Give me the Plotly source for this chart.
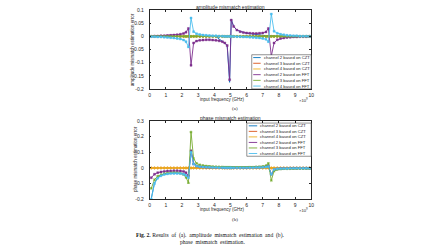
import plotly.graph_objects as go

# ---------------- data ----------------
freq_ghz = [0.1, 0.3, 0.5, 0.7, 0.9, 1.1, 1.3, 1.5, 1.7, 1.9,
            2.1, 2.25, 2.4, 2.56, 2.72, 2.9,
            3.1, 3.3, 3.5, 3.7, 3.9, 4.1, 4.3, 4.5,
            4.65, 4.8, 4.95, 5.05, 5.2, 5.4, 5.6, 5.8,
            6.0, 6.2, 6.4, 6.6, 6.8, 7.0,
            7.2, 7.35, 7.53, 7.7, 7.9,
            8.1, 8.3, 8.5, 8.7, 8.9,
            9.1, 9.3, 9.5, 9.7, 9.9]

series_names = ["channel 2 based on CZT", "channel 3 based on CZT", "channel 4 based on CZT",
                "channel 2 based on FFT", "channel 3 based on FFT", "channel 4 based on FFT"]
series_colors = ["#0072BD", "#D95319", "#EDB120", "#7E2F8E", "#77AC30", "#4DBEEE"]
series_symbols = ["line-ew", "circle", "cross", "square", "x", "square"]

# amplitude mismatch estimation error
amp_ch2_czt = [0.000, 0.000, 0.000, 0.000, 0.000, 0.000, 0.000, 0.000, 0.000, 0.000,
               0.000, 0.000, 0.000, 0.000, 0.000, 0.000,
               0.000, 0.000, 0.000, 0.000, 0.000, 0.000, -0.010, -0.018,
               -0.025, -0.035, -0.175, 0.065, 0.038, 0.024, 0.018, 0.015,
               0.012, 0.010, 0.008, 0.006, 0.005, 0.004,
               0.003, 0.003, 0.002, 0.002, 0.001,
               0.001, 0.001, 0.000, 0.000, 0.000,
               0.000, 0.000, 0.000, 0.000, 0.000]
amp_ch3_czt = [0.000, 0.000, 0.000, 0.000, 0.000, 0.000, 0.000, 0.000, 0.000, 0.000,
               0.000, 0.000, 0.000, 0.000, 0.000, 0.000,
               0.000, 0.000, 0.000, 0.000, 0.000, 0.000, 0.000, 0.000,
               0.000, 0.000, 0.000, 0.000, 0.000, 0.000, 0.000, 0.000,
               0.000, 0.000, 0.000, 0.000, 0.000, 0.000,
               0.000, 0.000, 0.000, 0.000, 0.000,
               0.000, 0.000, 0.000, 0.000, 0.000,
               0.000, 0.000, 0.000, 0.000, 0.000]
amp_ch4_czt = [0.000, 0.000, 0.000, 0.000, 0.000, 0.000, 0.000, 0.000, 0.000, 0.000,
               0.000, 0.000, 0.000, 0.000, 0.000, 0.000,
               0.000, 0.000, 0.000, 0.000, 0.000, 0.000, 0.000, 0.000,
               0.000, 0.000, 0.000, 0.000, 0.000, 0.000, 0.000, 0.000,
               0.000, 0.000, 0.000, 0.000, 0.000, 0.000,
               0.000, 0.000, 0.000, 0.000, 0.000,
               0.000, 0.000, 0.000, 0.000, 0.000,
               0.000, 0.000, 0.000, 0.000, 0.000]
amp_ch2_fft = [0.000, 0.001, 0.001, 0.002, 0.002, 0.003, 0.004, 0.005, 0.006, 0.008,
               0.011, 0.016, 0.030, -0.110, -0.025, -0.018,
               -0.015, -0.014, -0.013, -0.013, -0.014, -0.015, -0.017, -0.020,
               -0.025, -0.035, -0.165, 0.062, 0.038, 0.024, 0.018, 0.015,
               0.013, 0.012, 0.011, 0.011, 0.012, 0.013,
               0.017, 0.030, -0.075, -0.025, -0.013,
               -0.008, -0.006, -0.004, -0.003, -0.002,
               -0.002, -0.001, -0.001, -0.001, 0.000]
amp_ch3_fft = [0.000, 0.000, 0.000, 0.000, 0.000, 0.000, 0.000, 0.000, 0.000, 0.000,
               0.000, 0.000, 0.000, 0.000, 0.000, 0.000,
               0.000, 0.000, 0.000, 0.000, 0.000, 0.000, 0.000, 0.000,
               0.000, 0.000, 0.000, 0.000, 0.000, 0.000, 0.000, 0.000,
               0.000, 0.000, 0.000, 0.000, 0.000, 0.000,
               0.000, 0.000, 0.000, 0.000, 0.000,
               0.000, 0.000, 0.000, 0.000, 0.000,
               0.000, 0.000, 0.000, 0.000, 0.000]
amp_ch4_fft = [-0.001, -0.001, -0.002, -0.002, -0.003, -0.004, -0.005, -0.006, -0.008, -0.010,
               -0.014, -0.020, -0.040, 0.070, 0.018, 0.010,
               0.007, 0.005, 0.004, 0.003, 0.002, 0.002, 0.001, 0.001,
               0.000, 0.000, 0.000, 0.000, 0.000, -0.001, -0.001, -0.002,
               -0.002, -0.003, -0.004, -0.005, -0.006, -0.008,
               -0.011, -0.020, 0.085, 0.020, 0.012,
               0.008, 0.006, 0.004, 0.003, 0.002,
               0.002, 0.001, 0.001, 0.001, 0.000]

# phase mismatch estimation error
ph_ch2_czt = [-0.195, -0.095, -0.062, -0.048, -0.040, -0.036, -0.034, -0.033, -0.033, -0.034,
              -0.038, -0.045, -0.060, 0.115, 0.030, 0.015,
              0.010, 0.008, 0.006, 0.005, 0.004, 0.003, 0.003, 0.002,
              0.002, 0.002, 0.002, 0.002, 0.002, 0.002, 0.002, 0.002,
              0.002, 0.002, 0.003, 0.003, 0.004, 0.005,
              0.008, 0.012, -0.045, -0.012, -0.006,
              -0.004, -0.003, -0.003, -0.002, -0.002,
              -0.002, -0.002, -0.002, -0.002, -0.002]
ph_ch3_czt = [0.000, 0.000, 0.000, 0.000, 0.000, 0.000, 0.000, 0.000, 0.000, 0.000,
              0.000, 0.000, 0.000, 0.000, 0.000, 0.000,
              0.000, 0.000, 0.000, 0.000, 0.000, 0.000, 0.000, 0.000,
              0.000, 0.000, 0.000, 0.000, 0.000, 0.000, 0.000, 0.000,
              0.000, 0.000, 0.000, 0.000, 0.000, 0.000,
              0.000, 0.000, 0.000, 0.000, 0.000,
              0.000, 0.000, 0.000, 0.000, 0.000,
              0.000, 0.000, 0.000, 0.000, 0.000]
ph_ch4_czt = [0.000, 0.000, 0.000, 0.000, 0.000, 0.000, 0.000, 0.000, 0.000, 0.000,
              0.000, 0.000, 0.000, 0.000, 0.000, 0.000,
              0.000, 0.000, 0.000, 0.000, 0.000, 0.000, 0.000, 0.000,
              0.000, 0.000, 0.000, 0.000, 0.000, 0.000, 0.000, 0.000,
              0.000, 0.000, 0.000, 0.000, 0.000, 0.000,
              0.000, 0.000, 0.000, 0.000, 0.000,
              0.000, 0.000, 0.000, 0.000, 0.000,
              0.000, 0.000, 0.000, 0.000, 0.000]
ph_ch2_fft = [-0.062, -0.040, -0.030, -0.025, -0.022, -0.020, -0.019, -0.018, -0.018, -0.019,
              -0.022, -0.030, -0.050, 0.110, 0.025, 0.012,
              0.008, 0.006, 0.005, 0.004, 0.004, 0.003, 0.003, 0.003,
              0.002, 0.002, 0.002, 0.002, 0.002, 0.002, 0.002, 0.002,
              0.002, 0.003, 0.003, 0.004, 0.005, 0.006,
              0.009, 0.014, -0.040, -0.012, -0.006,
              -0.004, -0.003, -0.003, -0.002, -0.002,
              -0.002, -0.002, -0.002, -0.002, -0.002]
ph_ch3_fft = [-0.130, -0.075, -0.052, -0.043, -0.037, -0.033, -0.031, -0.030, -0.031, -0.034,
              -0.042, -0.060, -0.095, 0.230, 0.060, 0.030,
              0.020, 0.016, 0.013, 0.011, 0.009, 0.008, 0.007, 0.007,
              0.006, 0.006, 0.006, 0.005, 0.005, 0.005, 0.005, 0.005,
              0.005, 0.006, 0.006, 0.007, 0.008, 0.010,
              0.015, 0.030, -0.080, -0.020, -0.010,
              -0.007, -0.006, -0.005, -0.005, -0.004,
              -0.004, -0.004, -0.004, -0.004, -0.004]
ph_ch4_fft = [-0.200, -0.100, -0.065, -0.050, -0.042, -0.038, -0.036, -0.035, -0.035, -0.036,
              -0.040, -0.048, -0.062, 0.100, 0.025, 0.012,
              0.008, 0.006, 0.005, 0.004, 0.003, 0.003, 0.002, 0.002,
              0.001, 0.001, 0.001, 0.001, 0.001, 0.001, 0.001, 0.001,
              0.001, 0.002, 0.002, 0.003, 0.003, 0.004,
              0.006, 0.010, -0.040, -0.010, -0.005,
              -0.004, -0.003, -0.003, -0.002, -0.002,
              -0.002, -0.002, -0.002, -0.002, -0.002]

amp_series = [amp_ch2_czt, amp_ch3_czt, amp_ch4_czt, amp_ch2_fft, amp_ch3_fft, amp_ch4_fft]
ph_series = [ph_ch2_czt, ph_ch3_czt, ph_ch4_czt, ph_ch2_fft, ph_ch3_fft, ph_ch4_fft]

x_tick_vals = [0, 1, 2, 3, 4, 5, 6, 7, 8, 9, 10]
x_tick_text = ["0", "1", "2", "3", "4", "5", "6", "7", "8", "9", "10"]
amp_tick_vals = [0.1, 0.05, 0, -0.05, -0.1, -0.15, -0.2]
amp_tick_text = ["0.1", "0.05", "0", "-0.05", "-0.1", "-0.15", "-0.2"]
ph_tick_vals = [0.3, 0.2, 0.1, 0, -0.1, -0.2]
ph_tick_text = ["0.3", "0.2", "0.1", "0", "-0.1", "-0.2"]

# ---------------- layout helpers ----------------
W, H = 448, 252
def fx(p):
    return p / W
def fy(p):
    return 1 - p / H

AX_L, AX_R = 150, 313
TOP_T, TOP_B = 7.3, 88
BOT_T, BOT_B = 121, 201
INK = "#262626"
SANS = "Liberation Sans, Arial, sans-serif"
SERIF = "Liberation Serif, Times New Roman, serif"

fig = go.Figure()

for i, ys in enumerate(amp_series):
    fig.add_trace(go.Scatter(
        x=freq_ghz, y=ys, mode="lines+markers" if i else "lines",
        line=dict(color=series_colors[i], width=0.9),
        marker=dict(symbol=series_symbols[i], size=2.0, color=series_colors[i],
                    line=dict(width=0.4, color=series_colors[i])),
        name=series_names[i], showlegend=False, xaxis="x", yaxis="y"))
for i, ys in enumerate(ph_series):
    fig.add_trace(go.Scatter(
        x=freq_ghz, y=ys, mode="lines+markers" if i else "lines",
        line=dict(color=series_colors[i], width=0.9),
        marker=dict(symbol=series_symbols[i], size=2.0, color=series_colors[i],
                    line=dict(width=0.4, color=series_colors[i])),
        name=series_names[i], showlegend=False, xaxis="x2", yaxis="y2"))

axis_common = dict(showline=True, linecolor=INK, linewidth=0.6, mirror="ticks",
                   ticks="inside", ticklen=2, tickwidth=0.5, tickcolor=INK,
                   showgrid=False, zeroline=False,
                   tickfont=dict(family=SANS, size=5, color=INK))

fig.update_layout(
    width=W, height=H, autosize=False,
    margin=dict(l=0, r=0, t=0, b=0),
    paper_bgcolor="white", plot_bgcolor="white",
    showlegend=False,
    xaxis=dict(domain=[fx(AX_L), fx(AX_R)], range=[0, 10], anchor="y",
               tickvals=x_tick_vals, ticktext=x_tick_text, ticklabelstandoff=1, **axis_common),
    yaxis=dict(domain=[fy(TOP_B), fy(TOP_T)], range=[-0.2, 0.1], anchor="x",
               tickvals=amp_tick_vals, ticktext=amp_tick_text, ticklabelstandoff=4, **axis_common),
    xaxis2=dict(domain=[fx(AX_L), fx(AX_R)], range=[0, 10], anchor="y2",
                tickvals=x_tick_vals, ticktext=x_tick_text, ticklabelstandoff=1, **axis_common),
    yaxis2=dict(domain=[fy(BOT_B), fy(BOT_T)], range=[-0.2, 0.3], anchor="x2",
                tickvals=ph_tick_vals, ticktext=ph_tick_text, ticklabelstandoff=4, **axis_common),
)

def note(text, x, y, size=4.6, family=SANS, color=INK, angle=0, xanchor="center", yanchor="middle"):
    fig.add_annotation(text=text, x=fx(x), y=fy(y), xref="paper", yref="paper",
                       showarrow=False, textangle=angle, xanchor=xanchor, yanchor=yanchor,
                       font=dict(family=family, size=size, color=color))

cx = (AX_L + AX_R) / 2
# titles
note("amplitude mismatch estimation", cx, 3.8, size=5)
note("phase mismatch estimation", cx, 117.6, size=5)
# y labels
note("amplitude mismatch estimation error", 133.5, 48, size=4.5, angle=-90)
note("phase mismatch estimation error", 135, 160, size=4.5, angle=-90)
# x labels
note("input frequency (GHz)", 223, 99, size=4.5)
note("input frequency (GHz)", 223, 212, size=4.5)
# exponent
note("×10<sup>9</sup>", 311.5, 99.5, size=4.2, xanchor="right")
note("×10<sup>9</sup>", 311.5, 212.5, size=4.2, xanchor="right")
# sub-figure labels
note("(a)", 236, 108, size=5, family=SERIF)
note("(b)", 236.5, 222, size=5, family=SERIF)
# caption
note("<b>Fig. 2.</b> Results  of  (a).  amplitude  mismatch  estimation  and  (b).", 211, 238, size=5.6, family=SERIF, color="#111111")
note("phase  mismatch  estimation.", 213, 244.5, size=5.6, family=SERIF, color="#111111")

# manual legends (box, line samples, labels)
def legend(x0, y0, x1, y1, sample_x0, sample_x1, text_x):
    fig.add_shape(type="rect", xref="paper", yref="paper",
                  x0=fx(x0), x1=fx(x1), y0=fy(y1), y1=fy(y0),
                  line=dict(color=INK, width=0.5), fillcolor="white", layer="above")
    row_h = (y1 - y0) / len(series_names)
    for i, name in enumerate(series_names):
        yc = y0 + row_h * (i + 0.5)
        fig.add_shape(type="line", xref="paper", yref="paper",
                      x0=fx(sample_x0), x1=fx(sample_x1), y0=fy(yc), y1=fy(yc),
                      line=dict(color=series_colors[i], width=0.9), layer="above")
        note(name, text_x, yc, size=4.2, xanchor="left")

legend(253, 53, 313, 88, 254.5, 262, 263)
legend(248, 123, 313, 157, 250, 258.5, 259.5)

fig.write_html("out.html", config={"displayModeBar": False},
               post_script="document.body.style.margin='0';document.body.style.padding='0';")
